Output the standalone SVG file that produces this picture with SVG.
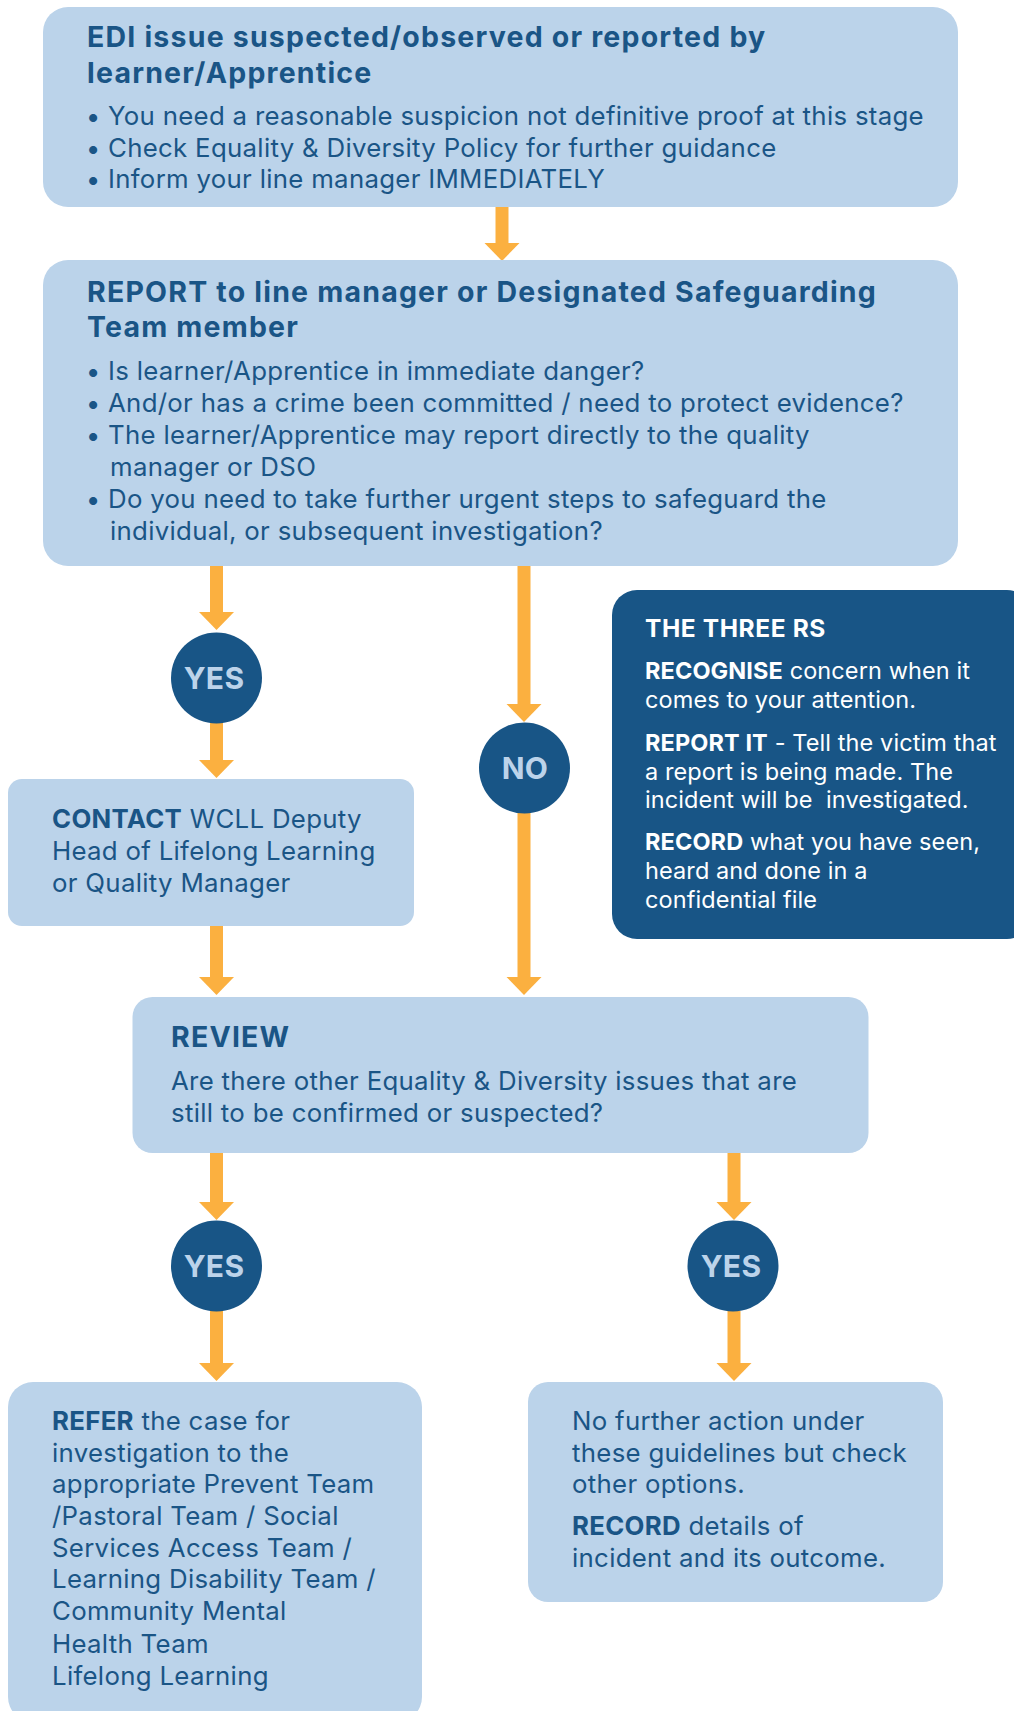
<svg xmlns="http://www.w3.org/2000/svg" width="1014" height="1711" viewBox="0 0 1014 1711">
<style>
.box{fill:#bbd3ea}
.dark{fill:#185586}
.t{font-family:Inter,"Open Sans",sans-serif;fill:#1a5586}
.h{font-size:28.5px;font-weight:700;letter-spacing:1.2px}
.b{font-size:25.8px;letter-spacing:0.3px}
.bu{font-weight:700}
.w{fill:#ffffff;font-size:23.5px;letter-spacing:0.1px}
.wh{fill:#ffffff;font-size:24.5px;font-weight:700;letter-spacing:0.6px}
.bold{font-weight:700}
.yn{font-family:Inter,"Open Sans",sans-serif;font-size:30px;font-weight:700;fill:#bcd3ea;letter-spacing:0.3px}
.c{stroke:#fbb040;stroke-width:13;fill:none}
</style>
<defs>
<marker id="ah" markerUnits="userSpaceOnUse" markerWidth="19" markerHeight="36" refX="0.5" refY="18" orient="auto" viewBox="0 0 19 36">
<path d="M0,0 L18.5,18 L0,36 z" fill="#fbb040"/>
</marker>
</defs>
<rect width="1014" height="1711" fill="#ffffff"/>
<g id="connectors">
<line class="c" x1="502" y1="207" x2="502" y2="243" marker-end="url(#ah)"/>
<line class="c" x1="216.5" y1="566" x2="216.5" y2="612" marker-end="url(#ah)"/>
<line class="c" x1="216.5" y1="723" x2="216.5" y2="760" marker-end="url(#ah)"/>
<line class="c" x1="524" y1="566" x2="524" y2="704" marker-end="url(#ah)"/>
<line class="c" x1="524" y1="813" x2="524" y2="977" marker-end="url(#ah)"/>
<line class="c" x1="216.5" y1="926" x2="216.5" y2="977" marker-end="url(#ah)"/>
<line class="c" x1="216.5" y1="1153" x2="216.5" y2="1202" marker-end="url(#ah)"/>
<line class="c" x1="734" y1="1153" x2="734" y2="1202" marker-end="url(#ah)"/>
<line class="c" x1="216.5" y1="1311" x2="216.5" y2="1363" marker-end="url(#ah)"/>
<line class="c" x1="734" y1="1311" x2="734" y2="1363" marker-end="url(#ah)"/>
</g>
<g id="n1">
<rect class="box" x="43" y="7" width="915" height="200" rx="25"/>
<text class="t h"><tspan x="87" y="47">EDI issue suspected/observed or reported by</tspan><tspan x="87" y="83">learner/Apprentice</tspan></text>
<text class="t b"><tspan class="bu" x="87" y="125">•</tspan><tspan x="108" y="125">You need a reasonable suspicion not definitive proof at this stage</tspan><tspan class="bu" x="87" y="157">•</tspan><tspan x="108" y="157">Check Equality &amp; Diversity Policy for further guidance</tspan><tspan class="bu" x="87" y="188">•</tspan><tspan x="108" y="188">Inform your line manager IMMEDIATELY</tspan></text>
</g>
<g id="n2">
<rect class="box" x="43" y="260" width="915" height="306" rx="25"/>
<text class="t h"><tspan x="87" y="302">REPORT to line manager or Designated Safeguarding</tspan><tspan x="87" y="337">Team member</tspan></text>
<text class="t b"><tspan class="bu" x="87" y="380">•</tspan><tspan x="108" y="380">Is learner/Apprentice in immediate danger?</tspan><tspan class="bu" x="87" y="412">•</tspan><tspan x="108" y="412">And/or has a crime been committed / need to protect evidence?</tspan><tspan class="bu" x="87" y="444">•</tspan><tspan x="108" y="444">The learner/Apprentice may report directly to the quality</tspan><tspan x="110" y="476">manager or DSO</tspan><tspan class="bu" x="87" y="508">•</tspan><tspan x="108" y="508">Do you need to take further urgent steps to safeguard the</tspan><tspan x="110" y="540">individual, or subsequent investigation?</tspan></text>
</g>
<g id="yes1">
<circle class="dark" cx="216.5" cy="678" r="45.5"/>
<text class="yn" x="214" y="689" text-anchor="middle">YES</text>
</g>
<g id="no">
<circle class="dark" cx="524.5" cy="768" r="45.5"/>
<text class="yn" x="525" y="779" text-anchor="middle">NO</text>
</g>
<g id="contact">
<rect class="box" x="8" y="779" width="406" height="147" rx="14"/>
<text class="t b"><tspan x="52" y="828"><tspan class="bold">CONTACT</tspan> WCLL Deputy</tspan><tspan x="52" y="860">Head of Lifelong Learning</tspan><tspan x="52" y="892">or Quality Manager</tspan></text>
</g>
<g id="threers">
<rect class="dark" x="612" y="590" width="420" height="349" rx="25"/>
<text class="t wh" x="645" y="637">THE THREE RS</text>
<text class="t w" xml:space="preserve"><tspan x="645" y="679"><tspan class="bold">RECOGNISE</tspan> concern when it</tspan><tspan x="645" y="708">comes to your attention.</tspan><tspan x="645" y="751"><tspan class="bold">REPORT IT</tspan> - Tell the victim that</tspan><tspan x="645" y="780">a report is being made. The</tspan><tspan x="645" y="808">incident will be  investigated.</tspan><tspan x="645" y="850"><tspan class="bold">RECORD</tspan> what you have seen,</tspan><tspan x="645" y="879">heard and done in a</tspan><tspan x="645" y="908">confidential file</tspan></text>
</g>
<g id="review">
<rect class="box" x="132.5" y="997" width="736" height="156" rx="20"/>
<text class="t h" x="171" y="1047">REVIEW</text>
<text class="t b"><tspan x="171" y="1090">Are there other Equality &amp; Diversity issues that are</tspan><tspan x="171" y="1122">still to be confirmed or suspected?</tspan></text>
</g>
<g id="yes2">
<circle class="dark" cx="216.5" cy="1266" r="45.5"/>
<text class="yn" x="214" y="1277" text-anchor="middle">YES</text>
</g>
<g id="yes3">
<circle class="dark" cx="733" cy="1266" r="45.5"/>
<text class="yn" x="731" y="1277" text-anchor="middle">YES</text>
</g>
<g id="refer">
<rect class="box" x="8" y="1382" width="414" height="340" rx="25"/>
<text class="t b"><tspan x="52" y="1430"><tspan class="bold">REFER</tspan> the case for</tspan><tspan x="52" y="1462">investigation to the</tspan><tspan x="52" y="1493">appropriate Prevent Team</tspan><tspan x="52" y="1525">/Pastoral Team / Social</tspan><tspan x="52" y="1557">Services Access Team /</tspan><tspan x="52" y="1588">Learning Disability Team /</tspan><tspan x="52" y="1620">Community Mental</tspan><tspan x="52" y="1653">Health Team</tspan><tspan x="52" y="1685">Lifelong Learning</tspan></text>
</g>
<g id="nfa">
<rect class="box" x="528" y="1382" width="415" height="220" rx="20"/>
<text class="t b"><tspan x="572" y="1430">No further action under</tspan><tspan x="572" y="1462">these guidelines but check</tspan><tspan x="572" y="1493">other options.</tspan></text>
<text class="t b"><tspan x="572" y="1535"><tspan class="bold">RECORD</tspan> details of</tspan><tspan x="572" y="1567">incident and its outcome.</tspan></text>
</g>
</svg>
